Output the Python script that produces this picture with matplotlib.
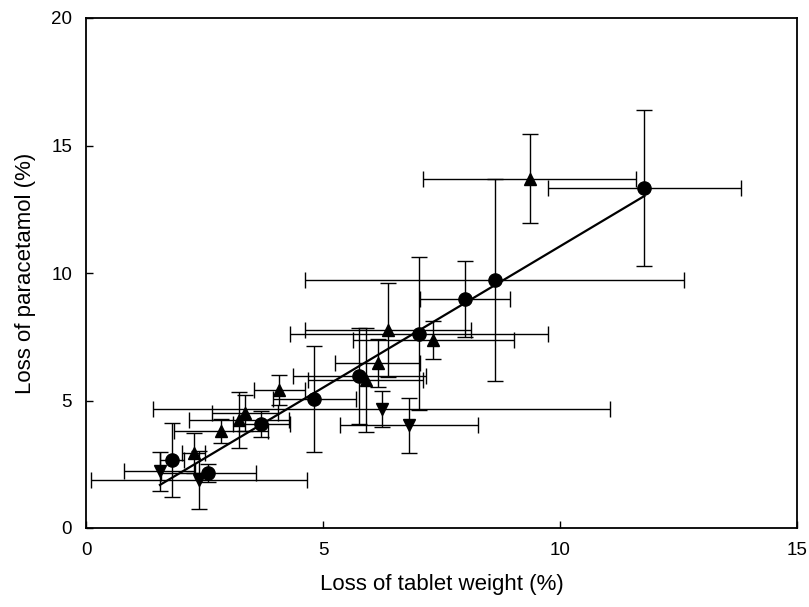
import numpy as np
import matplotlib.pyplot as plt
import matplotlib as mpl

mpl.rcParams['font.family'] = ['Liberation Sans', 'DejaVu Sans']

# filled circles
cir_x = [1.82, 2.58, 3.70, 4.82, 5.77, 7.02, 8.00, 8.62, 11.78]
cir_y = [2.67, 2.16, 4.07, 5.06, 5.96, 7.61, 8.98, 9.73, 13.33]
cir_xerr = [0.25, 1.00, 0.60, 0.87, 1.41, 2.72, 0.95, 4.00, 2.04]
cir_yerr = [1.45, 0.35, 0.50, 2.06, 1.90, 3.00, 1.50, 3.97, 3.05]

# upward triangles
tri_x = [2.27, 2.85, 3.23, 3.36, 4.08, 5.90, 6.15, 6.38, 7.33, 9.36]
tri_y = [2.94, 3.80, 4.24, 4.50, 5.41, 5.80, 6.47, 7.76, 7.37, 13.70]
tri_xerr = [0.25, 1.00, 1.05, 0.70, 0.54, 1.21, 0.89, 1.75, 1.69, 2.25]
tri_yerr = [0.80, 0.47, 1.10, 0.70, 0.60, 2.05, 0.95, 1.85, 0.75, 1.75]

# downward triangles
dtri_x = [1.56, 2.38, 6.24, 6.82]
dtri_y = [2.22, 1.88, 4.68, 4.02]
dtri_xerr = [0.75, 2.28, 4.82, 1.46]
dtri_yerr = [0.75, 1.13, 0.70, 1.08]

fig = plt.figure(figsize=(8.09, 6.07), dpi=100)
ax = fig.add_axes([86 / 809, 79 / 607, 711 / 809, 510 / 607])

ebkw = dict(ecolor='black', elinewidth=1.0, capsize=5.5, capthick=1.0,
            linestyle='none', markerfacecolor='black', markeredgecolor='black')
ax.errorbar(cir_x, cir_y, xerr=cir_xerr, yerr=cir_yerr, fmt='o', markersize=9.5, **ebkw)
ax.errorbar(tri_x, tri_y, xerr=tri_xerr, yerr=tri_yerr, fmt='^', markersize=9, **ebkw)
ax.errorbar(dtri_x, dtri_y, xerr=dtri_xerr, yerr=dtri_yerr, fmt='v', markersize=9, **ebkw)

# linear regression over all points
all_x = np.array(cir_x + tri_x + dtri_x)
all_y = np.array(cir_y + tri_y + dtri_y)
slope, icpt = np.polyfit(all_x, all_y, 1)
fx = np.array([all_x.min(), all_x.max()])
ax.plot(fx, slope * fx + icpt, color='black', linewidth=1.6, zorder=5)

ax.set_xlim(0, 15)
ax.set_ylim(0, 20)
ax.set_xticks([0, 5, 10, 15])
ax.set_yticks([0, 5, 10, 15, 20])
ax.tick_params(direction='in', length=5, width=1, labelsize=13.5, pad=10)
ax.tick_params(top=False, right=False)
for s in ax.spines.values():
    s.set_linewidth(1.3)

ax.set_xlabel('Loss of tablet weight (%)', fontsize=16, labelpad=11)
ax.set_ylabel('Loss of paracetamol (%)', fontsize=16, labelpad=11)

fig.savefig('out.png', dpi=100)
